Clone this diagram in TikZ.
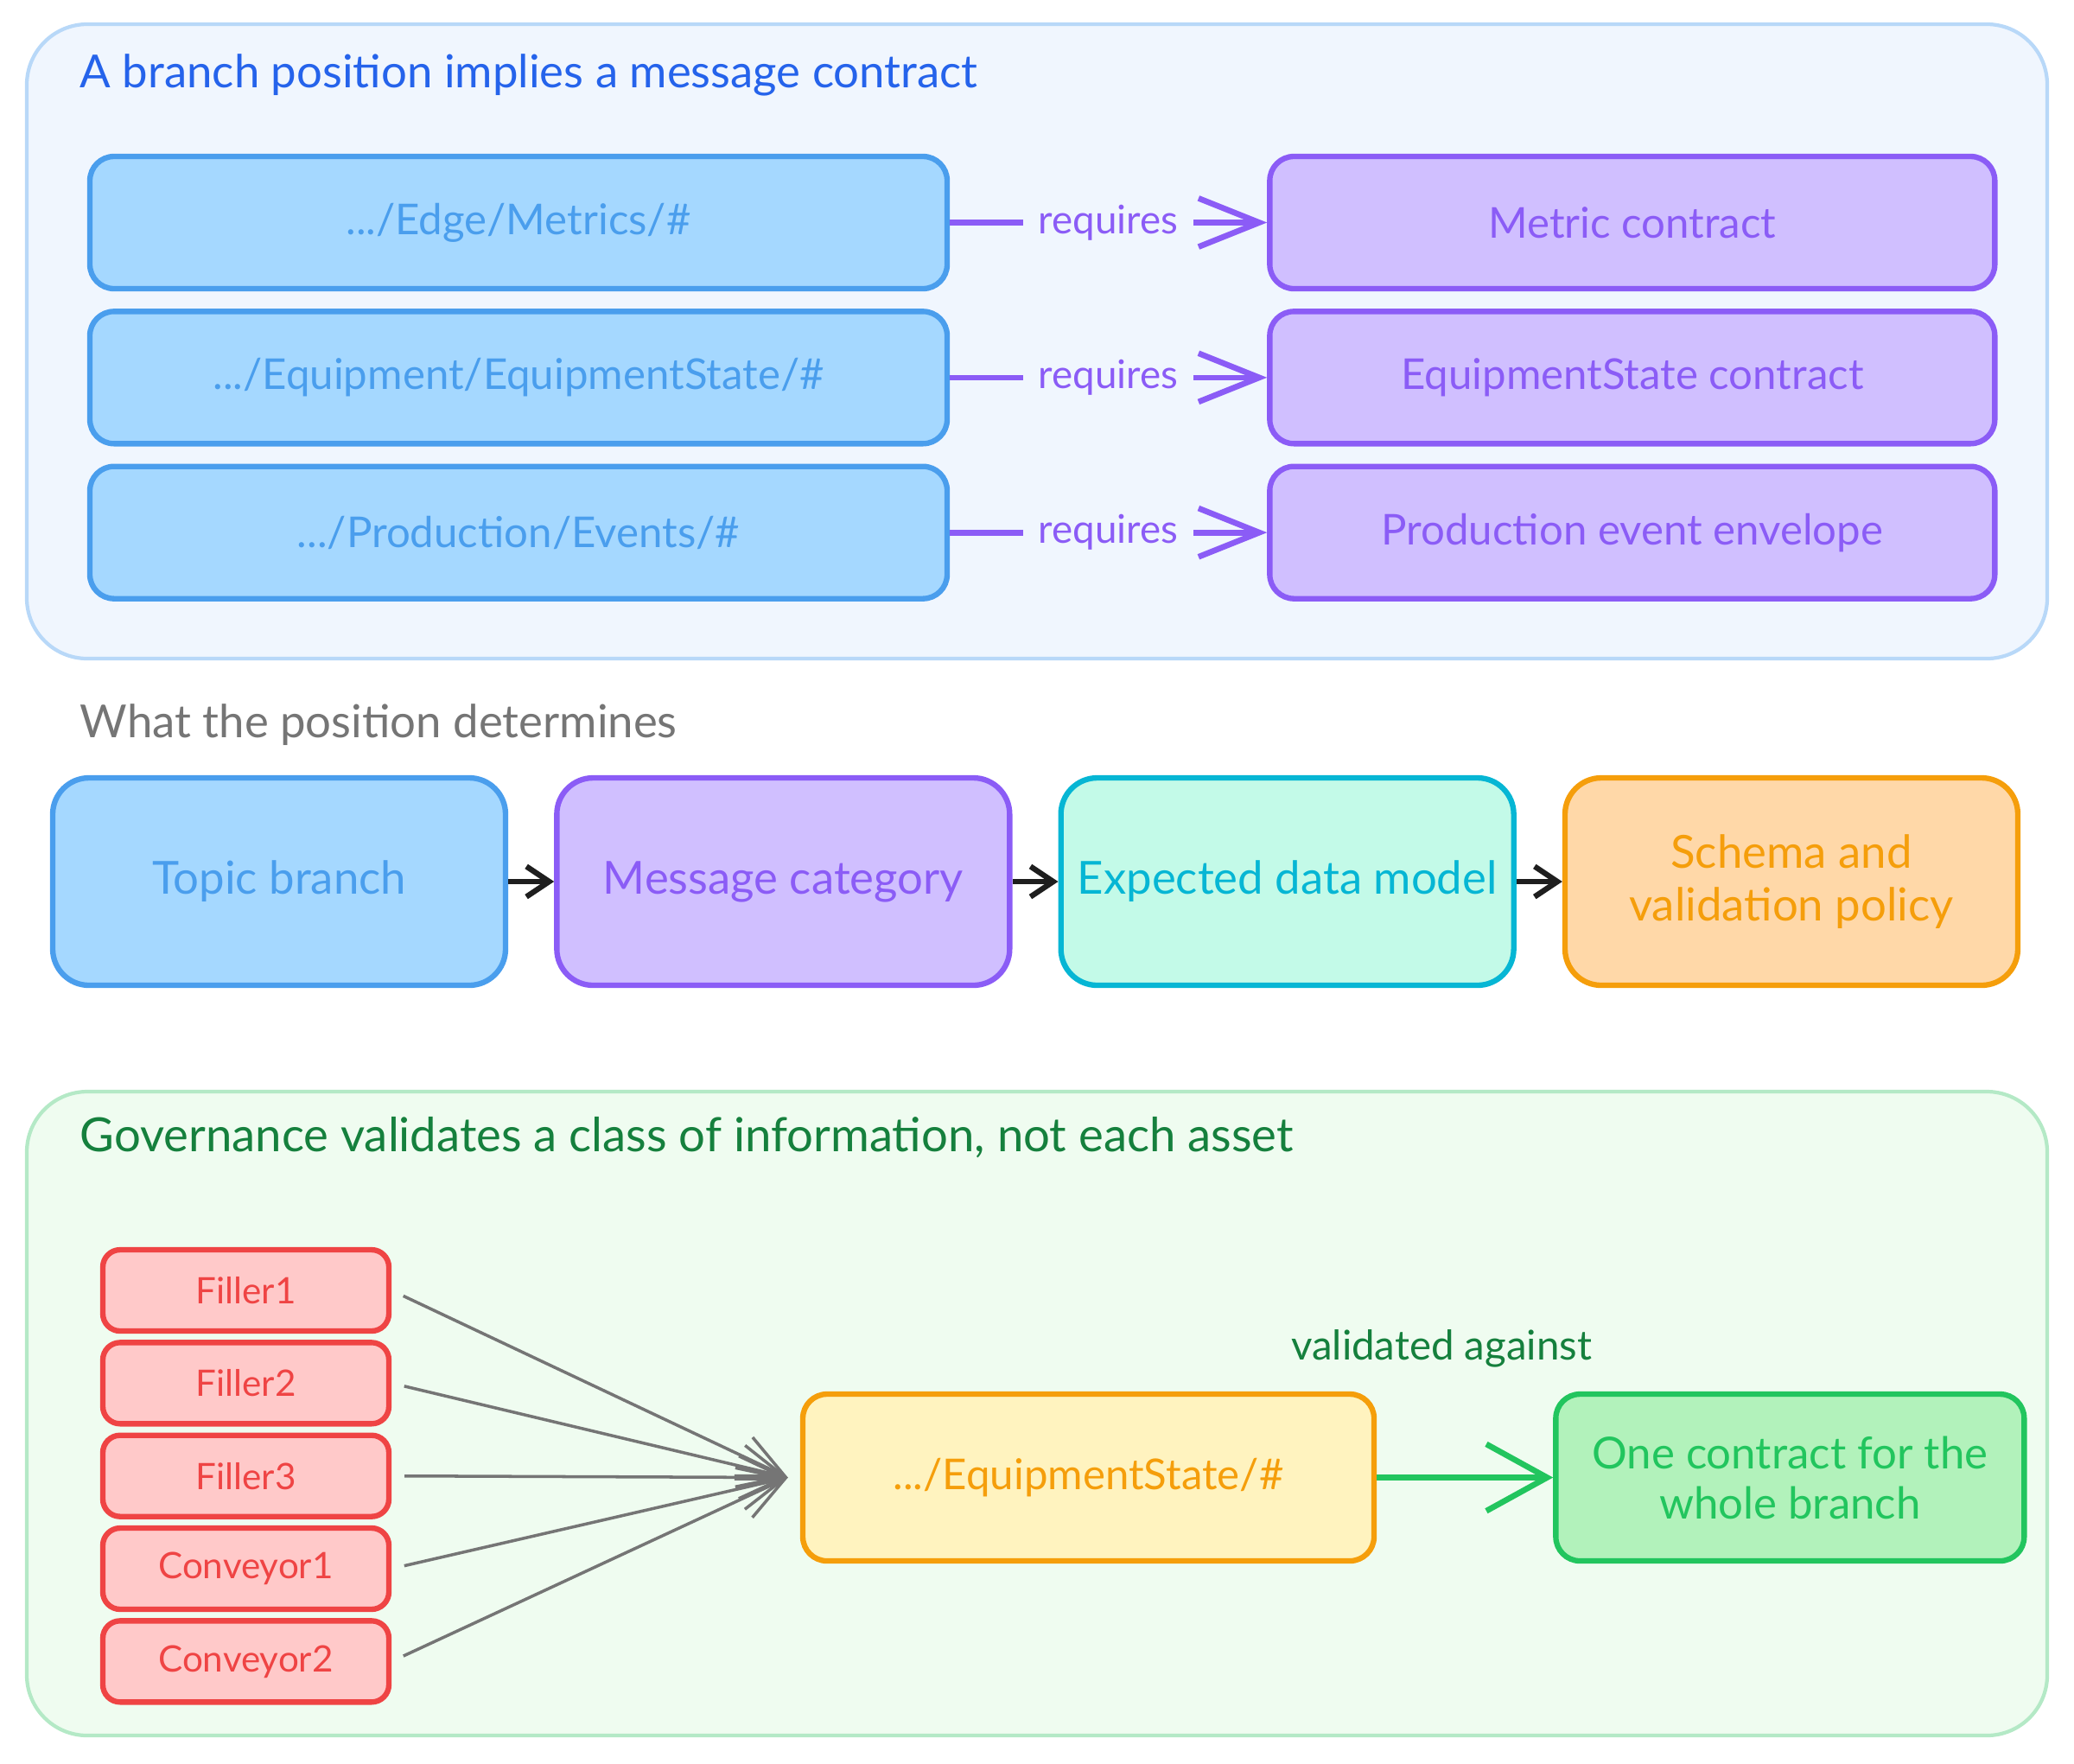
\documentclass[tikz,border=0pt]{standalone}
\usepackage{fontspec}
\setmainfont{Lato}
\usetikzlibrary{arrows.meta, positioning}
\definecolor{panelbluefill}{HTML}{F0F6FE}
\definecolor{panelblueline}{HTML}{B8D8F8}
\definecolor{panelgreenfill}{HTML}{EFFCF0}
\definecolor{panelgreenline}{HTML}{B4E9C6}
\definecolor{titleblue}{HTML}{2563EB}
\definecolor{titlegray}{HTML}{757575}
\definecolor{titlegreen}{HTML}{15803D}
\definecolor{topicfill}{HTML}{A5D8FF}
\definecolor{topicline}{HTML}{4A9EED}
\definecolor{catfill}{HTML}{D0BFFF}
\definecolor{catline}{HTML}{8B5CF6}
\definecolor{modelfill}{HTML}{C3FAE8}
\definecolor{modelline}{HTML}{06B6D4}
\definecolor{policyfill}{HTML}{FFD8A8}
\definecolor{policyline}{HTML}{F59E0B}
\definecolor{assetfill}{HTML}{FFC9C9}
\definecolor{assetline}{HTML}{EF4444}
\definecolor{branchfill}{HTML}{FFF3BF}
\definecolor{contractfill}{HTML}{B2F2BB}
\definecolor{contractline}{HTML}{22C55E}
\definecolor{fangray}{HTML}{757575}
\definecolor{inkblack}{HTML}{1E1E1E}

\begin{document}
\begin{tikzpicture}[
    font=\fontsize{14}{17}\selectfont,
    node distance=0.2cm and 3.67cm,
    panel/.style={rounded corners=0.7cm, line width=1.2pt},
    heading/.style={anchor=west, inner sep=0pt, font=\fontsize{15}{18}\selectfont},
    box/.style={rectangle, rounded corners=0.28cm, line width=1.8pt, align=center, inner sep=2pt},
    topicbox/.style={box, draw=topicline, fill=topicfill, text=topicline, minimum width=9.92cm, minimum height=1.53cm},
    contractbox/.style={box, draw=catline, fill=catfill, text=catline, minimum width=8.39cm, minimum height=1.53cm},
    stagebox/.style={box, rounded corners=0.42cm, minimum width=5.24cm, minimum height=2.4cm, font=\fontsize{15}{17.5}\selectfont},
    assetbox/.style={box, rounded corners=0.2cm, draw=assetline, fill=assetfill, text=assetline, minimum width=3.31cm, minimum height=0.94cm, font=\fontsize{12}{14}\selectfont},
    requires/.style={-{Straight Barb[length=20pt, width=16pt]}, line width=1.9pt, catline},
    reqlabel/.style={fill=panelbluefill, text=catline, inner xsep=5pt, font=\fontsize{13}{15}\selectfont},
    flow/.style={-{Straight Barb[length=7.5pt, width=10pt]}, line width=1.8pt, inkblack},
    fanin/.style={-{Straight Barb[length=15pt, width=14pt]}, line width=1pt, fangray, shorten <=0.15cm},
    validates/.style={-{Straight Barb[length=20pt, width=22pt]}, line width=1.9pt, contractline},
    vlabel/.style={text=titlegreen, font=\fontsize{13.5}{16}\selectfont}
]
\useasboundingbox (0,0) rectangle (24,-20.4);

% Panels
\draw[panel, draw=panelblueline, fill=panelbluefill] (0.31,-0.28) rectangle (23.69,-7.62);
\draw[panel, draw=panelgreenline, fill=panelgreenfill] (0.31,-12.63) rectangle (23.69,-20.08);

% Section 1: branch -> contract
\node[heading, text=titleblue] (head1) at (0.92,-0.87) {A branch position implies a message contract};

\node[topicbox] (metrics) at (6.0,-2.575) {.../Edge/Metrics/\#};
\node[topicbox, below=of metrics] (eqstate) {.../Equipment/EquipmentState/\#};
\node[topicbox, below=of eqstate] (events) {.../Production/Events/\#};

\node[contractbox, right=of metrics] (metricc) {Metric contract};
\node[contractbox, right=of eqstate] (eqstatec) {EquipmentState contract};
\node[contractbox, right=of events] (envelope) {Production event envelope};

\draw[requires] (metrics) -- node[reqlabel] {requires} (metricc);
\draw[requires] (eqstate) -- node[reqlabel] {requires} (eqstatec);
\draw[requires] (events) -- node[reqlabel] {requires} (envelope);

% Section 2: what the position determines
\node[heading, text=titlegray] (head2) at (0.92,-8.39) {What the position determines};

\node[stagebox, draw=topicline, fill=topicfill, text=topicline] (topic) at (3.23,-10.2) {Topic branch};
\node[stagebox, draw=catline, fill=catfill, text=catline, right=0.53cm of topic] (category) {Message category};
\node[stagebox, draw=modelline, fill=modelfill, text=modelline, right=0.53cm of category] (model) {Expected data model};
\node[stagebox, draw=policyline, fill=policyfill, text=policyline, right=0.53cm of model] (policy) {Schema and\\validation policy};

\draw[flow] (topic) -- (category);
\draw[flow] (category) -- (model);
\draw[flow] (model) -- (policy);

% Section 3: governance
\node[heading, text=titlegreen, font=\fontsize{15.5}{18}\selectfont] (head3) at (0.92,-13.16) {Governance validates a class of information, not each asset};

\node[assetbox] (filler1) at (2.845,-14.93) {Filler1};
\node[assetbox, below=0.07cm of filler1] (filler2) {Filler2};
\node[assetbox, below=0.07cm of filler2] (filler3) {Filler3};
\node[assetbox, below=0.07cm of filler3] (conv1) {Conveyor1};
\node[assetbox, below=0.07cm of conv1] (conv2) {Conveyor2};

\node[box, draw=policyline, fill=branchfill, text=policyline, minimum width=6.61cm, minimum height=1.93cm] (branch) at (12.595,-17.095) {.../EquipmentState/\#};
\node[box, draw=contractline, fill=contractfill, text=contractline, minimum width=5.42cm, minimum height=1.93cm, right=2.04cm of branch, font=\fontsize{14.5}{16.5}\selectfont] (onecontract) {One contract for the\\whole branch};

\coordinate (hub) at ([xshift=-0.14cm]branch.west);
\foreach \src in {filler1, filler2, filler3, conv1, conv2}
  \draw[fanin] (\src.east) -- (hub);

\draw[validates] (branch) -- node[vlabel, yshift=1.49cm, xshift=-0.27cm] {validated against} (onecontract);

\end{tikzpicture}
\end{document}
